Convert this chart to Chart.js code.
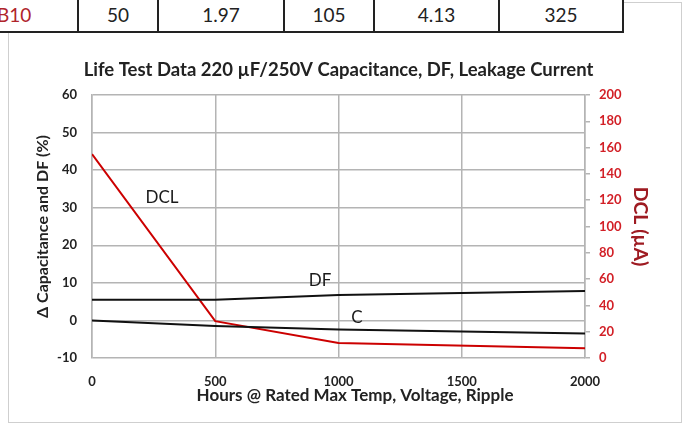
<!DOCTYPE html>
<html>
<head>
<meta charset="utf-8">
<script src="https://cdn.jsdelivr.net/npm/chart.js@4.4.1/dist/chart.umd.min.js"></script>
<style>
  body { margin: 0; width: 686px; height: 424px; background: #fff; overflow: hidden; position: relative; font-family: 'Lato', sans-serif; }
  .frame { position: absolute; left: 8px; top: 2px; width: 672px; height: 419px; border: 1px solid #cfcfcf; }
  .row { position: absolute; left: 0; top: -20px; height: 53px; }
  .cell { position: absolute; top: 0; height: 53px; background: #fff; border-right: 2px solid #222; border-bottom: 2px solid #222; box-sizing: border-box;
          font-size: 19px; color: #222; text-align: center; line-height: 70px; }
  .cell.red { color: #b0242b; text-align: left; text-indent: -1px; }
  canvas { position: absolute; left: 0; top: 0; }
</style>
</head>
<body>
<div class="frame"></div>
<div class="row" id="row"></div>
<canvas id="lifeChart" width="686" height="424"></canvas>
<script>
// top table row (partially cut off)
const rowCells = ['B10', '50', '1.97', '105', '4.13', '325'];
const rowEdges = [-2, 79, 159, 285, 375, 500, 624];

const hours = [0, 500, 1000, 2000];
const dfValues = [5.5, 5.5, 6.8, 7.8];
const capValues = [0, -1.5, -2.4, -3.5];
const dclValues = [155, 28, 11.5, 7.5];

const leftTicks = [-10, 60, 10];
const rightTicks = [0, 200, 20];

// inline labels: [text, hours, % value]
const lineLabels = [['DCL', 284, 32.6], ['DF', 925, 10.5], ['C', 1075, 0.9]];

const row = document.getElementById('row');
rowCells.forEach((t, i) => {
  const d = document.createElement('div');
  d.className = 'cell' + (i === 0 ? ' red' : '');
  d.style.left = rowEdges[i] + 'px';
  d.style.width = (rowEdges[i + 1] - rowEdges[i]) + 'px';
  d.textContent = t;
  row.appendChild(d);
});

const pts = ys => hours.map((h, i) => ({ x: h, y: ys[i] }));
const GRID = '#b4b4b4';
const tickFont = { family: 'Lato', size: 13, weight: 'bold' };

const labelPlugin = {
  id: 'lineLabels',
  afterDatasetsDraw(chart) {
    const { ctx, scales } = chart;
    ctx.save();
    ctx.font = '17px Lato';
    ctx.fillStyle = '#1a1a1a';
    ctx.textAlign = 'center';
    ctx.textBaseline = 'middle';
    lineLabels.forEach(([t, x, y]) => ctx.fillText(t, scales.x.getPixelForValue(x), scales.y.getPixelForValue(y)));
    ctx.restore();
  }
};

new Chart(document.getElementById('lifeChart'), {
  type: 'line',
  data: {
    datasets: [
      { label: 'DF', data: pts(dfValues), borderColor: '#111', borderWidth: 2, pointRadius: 0, yAxisID: 'y' },
      { label: 'C', data: pts(capValues), borderColor: '#111', borderWidth: 2, pointRadius: 0, yAxisID: 'y' },
      { label: 'DCL', data: pts(dclValues), borderColor: '#cc0000', borderWidth: 2, pointRadius: 0, yAxisID: 'y1' }
    ]
  },
  options: {
    responsive: false, animation: false,
    layout: { padding: 0 },
    plugins: {
      legend: { display: false }, tooltip: { enabled: false },
      title: { display: true, text: 'Life Test Data 220 µF/250V Capacitance, DF, Leakage Current\u00a0\u00a0',
        color: '#222', font: { family: 'Lato', size: 18.5, weight: 'bold', lineHeight: 1.2 },
        padding: { top: 58.9, bottom: 13.9 } }
    },
    scales: {
      x: { type: 'linear', min: 0, max: 2000,
        afterFit: s => { s.height = 66; },
        ticks: { stepSize: 500, color: '#222', font: tickFont, padding: 16, callback: v => String(v) },
        grid: { color: GRID, lineWidth: 1.5, drawTicks: false },
        border: { display: false },
        title: { display: true, text: '\u00a0'.repeat(8) + 'Hours @ Rated Max Temp, Voltage, Ripple', color: '#222',
          font: { family: 'Lato', size: 17, weight: 'bold', lineHeight: 1.2 }, padding: { top: 0, bottom: 17.8 } } },
      y: { position: 'left', min: leftTicks[0], max: leftTicks[1],
        afterFit: s => { s.width = 92; },
        ticks: { stepSize: leftTicks[2], color: '#222', font: tickFont, padding: 15 },
        grid: { color: GRID, lineWidth: 1.5, drawTicks: false },
        border: { color: GRID, width: 1.5 },
        title: { display: true, text: 'Δ Capacitance and DF (%)', color: '#222',
          font: { family: 'Lato', size: 16, weight: 'bold', lineHeight: 1.2 }, padding: { top: 33.4, bottom: 0 } } },
      y1: { position: 'right', min: rightTicks[0], max: rightTicks[1],
        afterFit: s => { s.width = 101; },
        ticks: { stepSize: rightTicks[2], color: '#d21f26', font: tickFont, padding: 9 },
        grid: { drawOnChartArea: false, color: GRID, tickLength: 5, lineWidth: 1.5 },
        border: { color: GRID, width: 1.5 },
        title: { display: true, text: 'DCL (µA)', color: '#9e1b22',
          font: { family: 'Lato', size: 19.5, weight: 'bold', lineHeight: 1.2 }, padding: { top: 34.3, bottom: 0 } } }
    }
  },
  plugins: [labelPlugin]
});
</script>
</body>
</html>
